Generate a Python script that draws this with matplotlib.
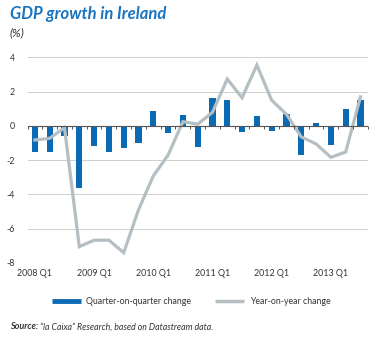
import numpy as np
import matplotlib
matplotlib.use("Agg")
import matplotlib.pyplot as plt
from matplotlib.lines import Line2D

# Data
quarters = [f"{y} Q{q}" for y in range(2008, 2014) for q in range(1, 5)][:23]
qoq_change = [-1.5, -1.5, -0.6, -3.6, -1.15, -1.5, -1.3, -1.0, 0.9, -0.4, 0.65, -1.2,
              1.65, 1.5, -0.38, 0.6, -0.27, 0.7, -1.68, 0.2, -1.1, 1.0, 1.5]
yoy_change = [-0.82, -0.72, -0.1, -7.05, -6.67, -6.67, -7.4, -4.9, -2.92, -1.7, 0.25, 0.1,
              0.8, 2.74, 1.65, 3.56, 1.5, 0.68, -0.64, -1.05, -1.83, -1.52, 1.7]
tick_labels = ["2008 Q1", "2009 Q1", "2010 Q1", "2011 Q1", "2012 Q1", "2013 Q1"]

BLUE = "#0a6ab3"
GREY = "#b5bfc3"
TITLE_BLUE = "#1874c1"
TEXT = "#333333"

plt.rcParams["font.family"] = ["Lato", "DejaVu Sans"]

fig = plt.figure(figsize=(3.82, 3.38), dpi=100)
ax = fig.add_axes([0.072, 0.222, 0.891, 0.608])

x = np.arange(len(quarters))
ax.bar(x, qoq_change, width=0.42, color=BLUE, zorder=3)
ax.plot(x, yoy_change, color=GREY, linewidth=2.3, zorder=4, solid_joinstyle="miter")

ax.set_xlim(-0.5, len(quarters) - 0.5)
ax.set_ylim(-8, 4)
ax.set_yticks(range(-8, 5, 2))
ax.set_yticklabels([str(v) for v in range(-8, 5, 2)])
for v in range(-8, 5, 2):
    if v != 0:
        ax.axhline(v, color="#cfcfcf", linewidth=0.7, zorder=1)
ax.axhline(0, color="#555555", linewidth=0.8, zorder=5)

# small quarter ticks on the zero line
ax.plot(np.arange(len(quarters) + 1) - 0.5, np.zeros(len(quarters) + 1), linestyle="none",
        marker=3, markersize=2.5, color="#555555", markeredgewidth=0.7, zorder=5, clip_on=False)

ax.set_xticks([quarters.index(t) for t in tick_labels])
ax.set_xticklabels(tick_labels)
ax.tick_params(axis="both", length=0, labelsize=6.4, colors=TEXT, pad=4)
ax.tick_params(axis="y", pad=9)
for s in ax.spines.values():
    s.set_visible(False)

fig.text(0.026, 0.958, "GDP growth in Ireland", fontsize=12, fontweight="bold",
         fontstyle="italic", color=TITLE_BLUE, va="center")
fig.text(0.026, 0.902, "(%)", fontsize=8.5, fontstyle="italic", color=TEXT, va="center")

handles = [Line2D([], [], color=BLUE, linewidth=3.5, solid_capstyle="butt"),
           Line2D([], [], color=GREY, linewidth=2.5, solid_capstyle="butt")]
fig.legend(handles, ["Quarter-on-quarter change", "Year-on-year change"], loc="center",
           bbox_to_anchor=(0.5, 0.109), ncol=2, frameon=False, fontsize=6.3,
           handlelength=3.3, handletextpad=0.6, columnspacing=2.8, labelcolor=TEXT)

src = fig.text(0.026, 0.033, "Source:", fontsize=6.5, fontweight="bold", fontstyle="italic",
               color=TEXT, va="center")
fig.canvas.draw()
src_end = src.get_window_extent().x1 / fig.bbox.width
fig.text(src_end + 0.006, 0.033, "\u201cla Caixa\u201d Research, based on Datastream data.",
         fontsize=6.3, fontstyle="italic", color=TEXT, va="center")

fig.savefig("out.png", dpi=100)
